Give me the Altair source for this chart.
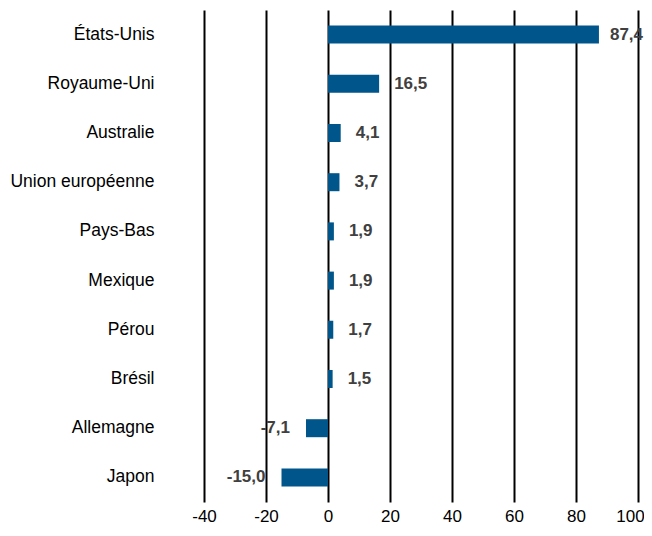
import altair as alt
import pandas as pd

countries = ["États-Unis", "Royaume-Uni", "Australie", "Union européenne", "Pays-Bas",
             "Mexique", "Pérou", "Brésil", "Allemagne", "Japon"]
values = [87.4, 16.5, 4.1, 3.7, 1.9, 1.9, 1.7, 1.5, -7.1, -15.0]
x_ticks = [-40, -20, 0, 20, 40, 60, 80, 100]

df = pd.DataFrame({"pays": countries, "valeur": values})
df["label"] = [f"{v:.1f}".replace(".", ",") for v in values]

FONT = "Liberation Sans"

base = alt.Chart(df)

y_enc = alt.Y("pays:N", sort=countries, title=None,
              scale=alt.Scale(paddingInner=0, paddingOuter=0),
              axis=alt.Axis(domain=False, ticks=False, labelFont=FONT, labelFontSize=17.5,
                            labelColor="#000000", labelPadding=50, labelLimit=300))
x_enc = alt.X("valeur:Q", title=None,
              scale=alt.Scale(domain=[-40, 100], nice=False, zero=False),
              axis=alt.Axis(values=x_ticks, domain=False, ticks=False, grid=True,
                            gridColor="#000000", gridWidth=2, gridOpacity=1,
                            labelFont=FONT, labelFontSize=17, labelColor="#000000",
                            labelPadding=6, labelExpr="datum.value", labelFlush=False,
                            labelOffset={"condition": {"test": "datum.value == 100", "value": -8},
                                         "value": 0}))

bars = base.mark_bar(size=18, color="#00558A").encode(x=x_enc, y=y_enc)

txt = dict(baseline="middle", font=FONT, fontSize=17, fontWeight="bold", color="#404040")
enc = dict(x="valeur:Q", y=alt.Y("pays:N", sort=countries), text="label:N")

pos_big = base.transform_filter("datum.valeur >= 50").mark_text(
    align="left", dx=11, **txt).encode(**enc)
pos = base.transform_filter("datum.valeur >= 0 && datum.valeur < 50").mark_text(
    align="left", dx=15, **txt).encode(**enc)
neg = base.transform_filter("datum.valeur < 0").mark_text(
    align="right", dx=-16, **txt).encode(**enc)

chart = alt.layer(bars, pos_big, pos, neg).properties(
    width=434, height=492,
    autosize=alt.AutoSizeParams(type="none"),
    padding={"left": 196, "top": 2, "right": 6, "bottom": 26},
).configure_view(stroke=None)

chart.save("out.html", embed_options={"renderer": "svg", "actions": False})
